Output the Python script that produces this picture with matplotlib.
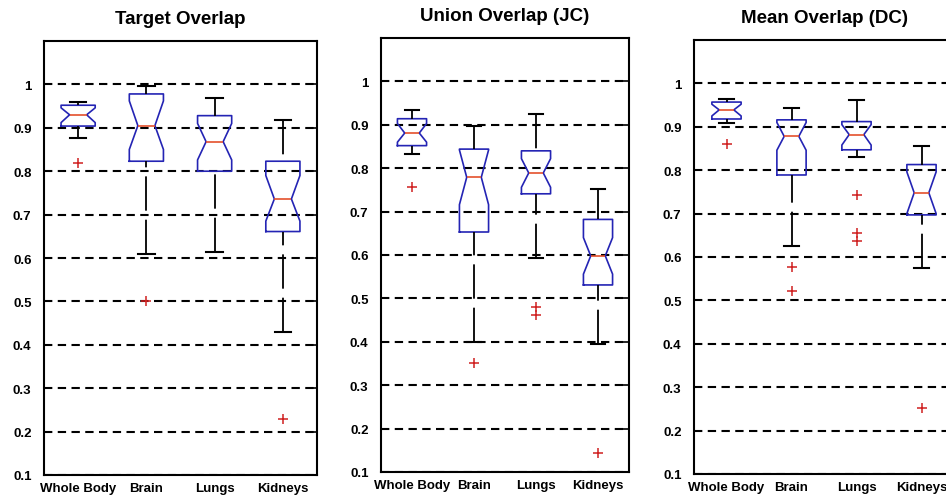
## notched box plots of the three overlap measures
from matplotlib import pyplot as plt

plt.rcParams['font.family'] = ['Liberation Sans', 'DejaVu Sans']
plt.rcParams['font.weight'] = 'bold'

organs = ['Whole Body', 'Brain', 'Lungs', 'Kidneys']
titles = ['Target Overlap', 'Union Overlap (JC)', 'Mean Overlap (DC)']

# box statistics (one value per organ)
target_lo = [0.877, 0.609, 0.613, 0.429]
target_q1 = [0.904, 0.823, 0.800, 0.661]
target_cilo = [0.912, 0.850, 0.826, 0.685]
target_med = [0.930, 0.905, 0.868, 0.736]
target_cihi = [0.946, 0.962, 0.910, 0.790]
target_q3 = [0.952, 0.978, 0.928, 0.823]
target_hi = [0.959, 0.997, 0.968, 0.917]
target_out = [[0.819], [0.500], [], [0.229]]

union_lo = [0.832, 0.400, 0.592, 0.396]
union_q1 = [0.852, 0.653, 0.741, 0.531]
union_cilo = [0.860, 0.716, 0.756, 0.556]
union_med = [0.881, 0.779, 0.789, 0.598]
union_cihi = [0.903, 0.842, 0.822, 0.640]
union_q3 = [0.914, 0.844, 0.840, 0.682]
union_hi = [0.935, 0.897, 0.926, 0.752]
union_out = [[0.757], [0.352], [0.480, 0.461], [0.144]]

mean_lo = [0.908, 0.625, 0.830, 0.574]
mean_q1 = [0.918, 0.789, 0.847, 0.697]
mean_cilo = [0.925, 0.846, 0.858, 0.700]
mean_med = [0.939, 0.878, 0.882, 0.748]
mean_cihi = [0.952, 0.910, 0.905, 0.796]
mean_q3 = [0.957, 0.916, 0.912, 0.813]
mean_hi = [0.963, 0.943, 0.961, 0.856]
mean_out = [[0.860], [0.576, 0.522], [0.744, 0.655, 0.636], [0.251]]

panels = [
    (target_lo, target_q1, target_cilo, target_med, target_cihi, target_q3, target_hi, target_out),
    (union_lo, union_q1, union_cilo, union_med, union_cihi, union_q3, union_hi, union_out),
    (mean_lo, mean_q1, mean_cilo, mean_med, mean_cihi, mean_q3, mean_hi, mean_out),
]

yticks = [0.1, 0.2, 0.3, 0.4, 0.5, 0.6, 0.7, 0.8, 0.9, 1.0]
ylabels = ['0.1', '0.2', '0.3', '0.4', '0.5', '0.6', '0.7', '0.8', '0.9', '1']

W, H = 946, 502
fig = plt.figure(figsize=(W / 100, H / 100), dpi=100)

# axes rectangles in pixels: left, top, width, height
rects = [(44, 42, 273, 434), (381, 39, 248, 434), (694, 41, 260, 434)]
box_w = [0.5, 0.47, 0.45]

for k, (lo, q1, cilo, med, cihi, q3, hi, out) in enumerate(panels):
    l, t, w, h = rects[k]
    ax = fig.add_axes([l / W, (H - t - h) / H, w / W, h / H])
    stats = []
    for i in range(4):
        stats.append(dict(whislo=lo[i], q1=q1[i], cilo=cilo[i], med=med[i],
                          cihi=cihi[i], q3=q3[i], whishi=hi[i], fliers=out[i]))
    res = ax.bxp(stats, positions=[1, 2, 3, 4], widths=box_w[k], shownotches=True,
                 capwidths=0.24,
                 boxprops=dict(color='#2424b4', linewidth=1.2),
                 medianprops=dict(color='#e4502c', linewidth=1.2),
                 whiskerprops=dict(color='black', linewidth=1.3, linestyle=(0, (19, 5))),
                 capprops=dict(color='black', linewidth=1.5),
                 flierprops=dict(marker='+', markeredgecolor='#d02020', markersize=6.5,
                                 markeredgewidth=1.1, linestyle='none'))
    # start the whisker dashes at the caps like matlab does
    for line in res['whiskers']:
        x, y = line.get_data()
        line.set_data(x[::-1], y[::-1])

    ax.set_xlim(0.5, 4.5)
    ax.set_ylim(0.1, 1.1)
    ax.set_yticks(yticks)
    ax.set_yticklabels(ylabels)
    ax.set_xticks([1, 2, 3, 4])
    ax.set_xticklabels(organs)
    ax.yaxis.grid(True, color='black', linestyle=(0, (4, 2.6)), linewidth=1.5)
    ax.set_axisbelow(True)
    ax.tick_params(axis='y', direction='in', length=4, width=1.2, right=True,
                   labelsize=9.5, pad=9)
    ax.tick_params(axis='x', length=0, labelsize=9.5, pad=5)
    for s in ax.spines.values():
        s.set_linewidth(1.5)
        s.set_color('black')
    ax.set_title(titles[k], fontsize=13.5, fontweight='bold', pad=13)

plt.savefig('out.png', dpi=100)
